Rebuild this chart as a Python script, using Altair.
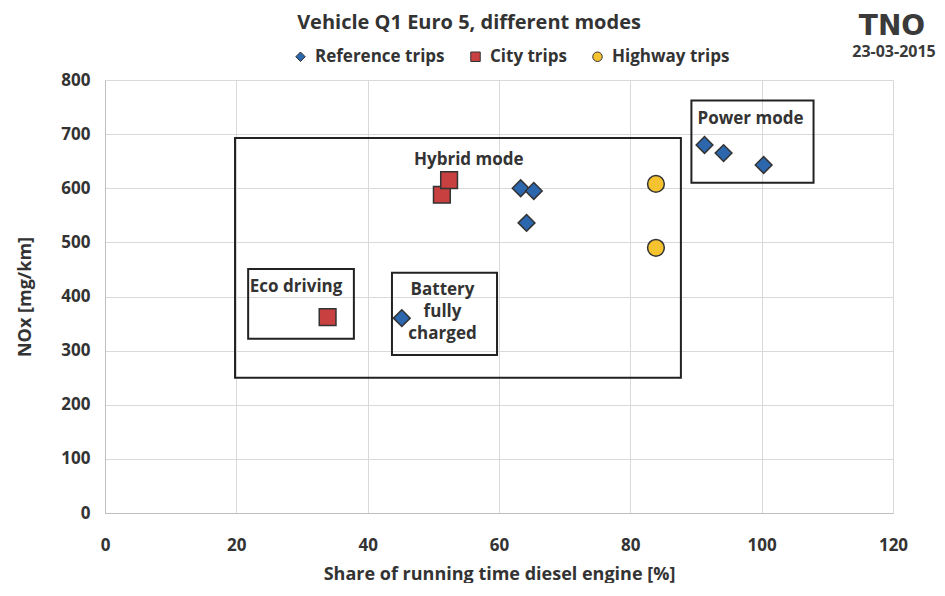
import altair as alt
import pandas as pd

# ---- data ----
ref_x = [45.2, 63.3, 65.3, 64.2, 91.3, 94.2, 100.3]
ref_y = [360, 600, 595, 536, 680, 665, 643]
city_x = [33.9, 51.3, 52.4]
city_y = [362, 588, 615]
hwy_x = [83.9, 83.9]
hwy_y = [608, 490]

series_names = ["Reference trips", "City trips", "Highway trips"]
series_colors = ["#2c66ad", "#c8403f", "#f5c330"]
series_shapes = ["diamond", "square", "circle"]

box_x1 = [19.8, 21.8, 43.7, 89.3]
box_x2 = [87.7, 37.9, 59.7, 107.9]
box_y1 = [693, 451, 444, 762]
box_y2 = [250, 322, 292, 610]

label_text = ["Hybrid mode", "Eco driving", "Battery", "fully", "charged", "Power mode"]
label_x = [55.4, 29.1, 51.4, 51.4, 51.4, 98.3]
label_y = [652, 418, 412, 372, 331, 728]

x_ticks = [0, 20, 40, 60, 80, 100, 120]
y_ticks = [0, 100, 200, 300, 400, 500, 600, 700, 800]

title_text = "Vehicle Q1 Euro 5, different modes"
logo_text = "TNO"
date_text = "23-03-2015"

FONT = "Open Sans"

pts = pd.DataFrame({
    "x": ref_x + city_x + hwy_x,
    "y": ref_y + city_y + hwy_y,
    "series": [series_names[0]] * len(ref_x) + [series_names[1]] * len(city_x) + [series_names[2]] * len(hwy_x),
})
boxes = pd.DataFrame({"x": box_x1, "x2": box_x2, "y": box_y1, "y2": box_y2})
labels = pd.DataFrame({"x": label_x, "y": label_y, "t": label_text})

xs = alt.Scale(domain=[0, 120], nice=False, zero=False)
ys = alt.Scale(domain=[0, 800], nice=False, zero=False)

xaxis = alt.Axis(values=x_ticks, title="Share of running time diesel engine [%]", ticks=False,
                 labelPadding=24, titlePadding=12, grid=True, labelFlush=False)
yaxis = alt.Axis(values=y_ticks, title="NOx  [mg/km]", ticks=False, labelPadding=15,
                 titlePadding=26, grid=True, labelFlush=False)

rects = alt.Chart(boxes).mark_rect(fill=None, fillOpacity=0, stroke="#222222", strokeWidth=2).encode(
    x=alt.X("x:Q", scale=xs, axis=xaxis), x2="x2:Q",
    y=alt.Y("y:Q", scale=ys, axis=yaxis), y2="y2:Q",
)

points = alt.Chart(pts).mark_point(filled=True, opacity=1, stroke="#333333", strokeWidth=1.5).encode(
    x=alt.X("x:Q", scale=xs),
    y=alt.Y("y:Q", scale=ys),
    color=alt.Color("series:N", sort=series_names,
                    scale=alt.Scale(domain=series_names, range=series_colors),
                    legend=alt.Legend(title=None, orient="none", direction="horizontal",
                                      legendX=187, legendY=-32, symbolSize=90,
                                      labelFontSize=17, labelFont=FONT, labelFontWeight="bold",
                                      labelColor="#333333", columnPadding=22, labelOffset=6,
                                      symbolStrokeWidth=1)),
    shape=alt.Shape("series:N", sort=series_names,
                    scale=alt.Scale(domain=series_names, range=series_shapes), legend=None),
    size=alt.value(280),
)

texts = alt.Chart(labels).mark_text(font=FONT, fontWeight="bold", fontSize=17, color="#333333").encode(
    x=alt.X("x:Q", scale=xs), y=alt.Y("y:Q", scale=ys), text="t:N",
)

title = alt.Chart(pd.DataFrame({"t": [title_text]})).mark_text(
    font=FONT, fontWeight="bold", fontSize=20, color="#333333",
).encode(x=alt.value(364), y=alt.value(-57), text="t:N")

logo = alt.Chart(pd.DataFrame({"t": [logo_text]})).mark_text(
    font="DejaVu Sans", fontWeight="bold", fontSize=28, color="#3a3a3a",
).encode(x=alt.value(787), y=alt.value(-53), text="t:N")
date = alt.Chart(pd.DataFrame({"t": [date_text]})).mark_text(
    font=FONT, fontWeight="bold", fontSize=16, color="#3a3a3a",
).encode(x=alt.value(789), y=alt.value(-28), text="t:N")

chart = alt.layer(rects, points, texts, title, logo, date).properties(
    width=788, height=433,
    autosize=alt.AutoSizeParams(type="none"),
    padding={"left": 97, "top": 72, "right": 44, "bottom": 70},
).configure_view(stroke=None).configure_axis(
    labelFont=FONT, labelFontSize=17, labelFontWeight="bold", labelColor="#333333",
    titleFont=FONT, titleFontSize=18, titleFontWeight="bold", titleColor="#333333",
    gridColor="#d9d9d9", domainColor="#bfbfbf",
)

chart.save("out.html", embed_options={"renderer": "svg", "actions": False})
